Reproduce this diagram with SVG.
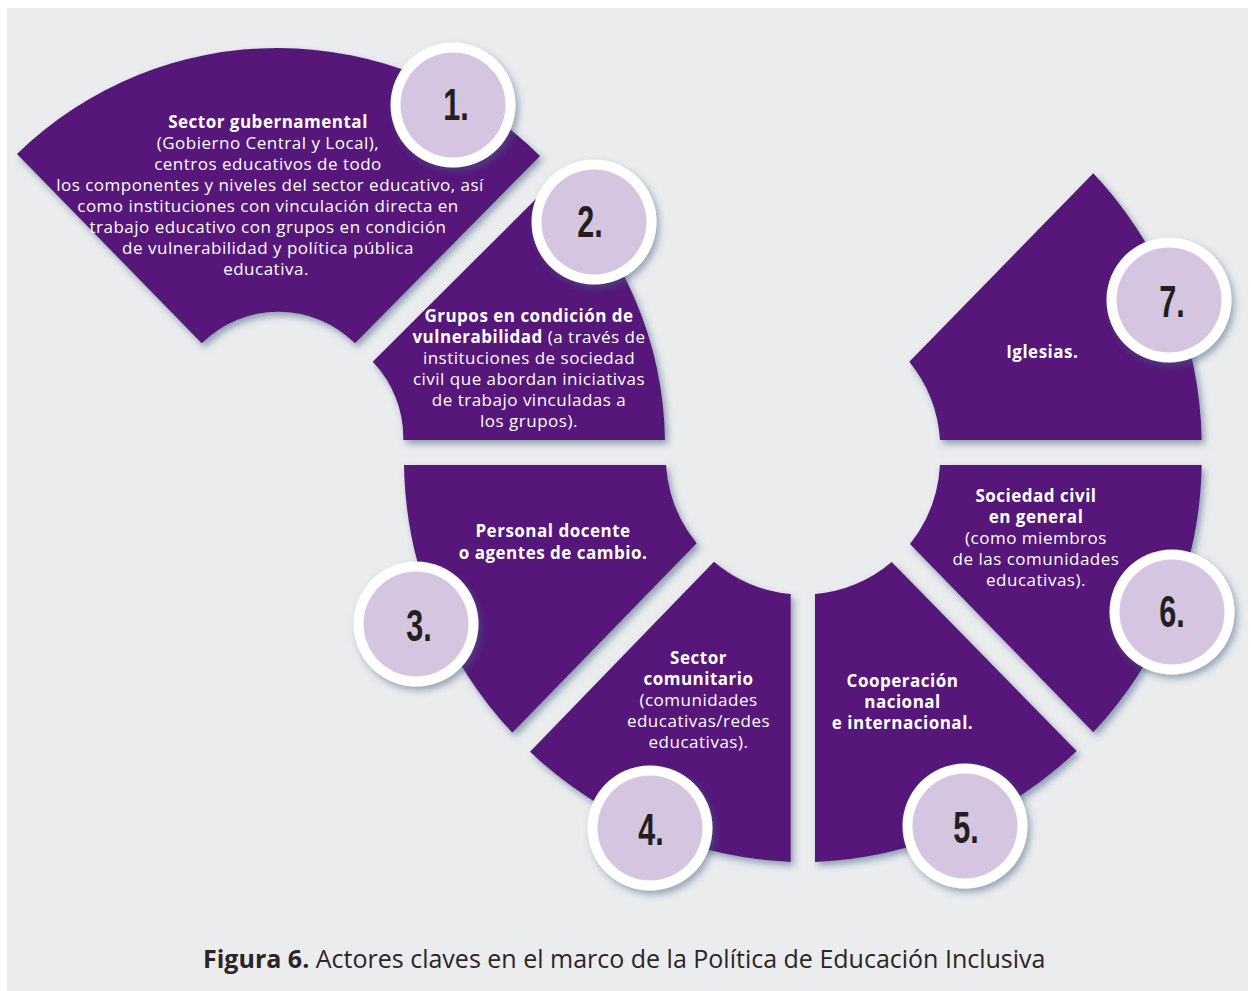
<svg xmlns="http://www.w3.org/2000/svg" width="1251" height="991" viewBox="0 0 1251 991">
<defs>
<filter id="sh" x="-20%" y="-20%" width="140%" height="140%">
<feDropShadow dx="3" dy="4" stdDeviation="3.5" flood-color="#3f5f80" flood-opacity="0.55"/>
</filter>
<filter id="csh" x="-30%" y="-30%" width="160%" height="160%">
<feDropShadow dx="3" dy="4" stdDeviation="3.5" flood-color="#3f5f80" flood-opacity="0.5"/>
</filter>
<style>
.sec{fill:#56177a;filter:url(#sh)}
.ring{fill:#ffffff;filter:url(#csh)}
.disc{fill:#d5c5e0}
.num{font-family:"Liberation Sans",Arial,sans-serif;font-weight:bold;font-size:45px;fill:#231f20;text-anchor:middle}
.t{font-family:"Open Sans","Liberation Sans",sans-serif;font-size:17px;letter-spacing:0.5px;fill:#ffffff;text-anchor:middle}
.b{font-weight:bold}
.cap{font-family:"Open Sans","Liberation Sans",sans-serif;font-size:25px;fill:#2b2526}
</style>
</defs>
<rect x="0" y="0" width="1251" height="991" fill="#ffffff"/>
<rect x="7" y="8" width="1241" height="983" fill="#ebecee"/>
<g id="connectors"/>
<g id="node1">
<path class="sec" d="M17,154 A373,373 0 0 1 540,156 L355,343.3 A109,109 0 0 0 201.7,343.3 Z"/>
<text class="t"><tspan class="b" x="268" y="127.5">Sector gubernamental</tspan><tspan x="268" y="148.5">(Gobierno Central y Local),</tspan><tspan x="268" y="169.5">centros educativos de todo</tspan><tspan x="270" y="190.5">los componentes y niveles del sector educativo, así</tspan><tspan x="268" y="211.5">como instituciones con vinculación directa en</tspan><tspan x="268" y="232.5">trabajo educativo con grupos en condición</tspan><tspan x="268" y="253.5">de vulnerabilidad y política pública</tspan><tspan x="266" y="274.5">educativa.</tspan></text>
<circle class="ring" cx="453" cy="105" r="62.5"/>
<circle class="disc" cx="453" cy="105" r="52.5"/>
<text class="num" transform="translate(456,120) scale(0.68,1)">1.</text>
</g>
<g id="node2">
<path class="sec" d="M372.7,361.7 L554,181 A370,370 0 0 1 665,440 L403.3,440 A110,110 0 0 0 372.7,361.7 Z"/>
<text class="t"><tspan class="b" x="529" y="321.7">Grupos en condición de</tspan><tspan x="529" y="342.7"><tspan class="b">vulnerabilidad</tspan> (a través de</tspan><tspan x="529" y="363.8">instituciones de sociedad</tspan><tspan x="529" y="384.9">civil que abordan iniciativas</tspan><tspan x="529" y="406">de trabajo vinculadas a</tspan><tspan x="529" y="427.1">los grupos).</tspan></text>
<circle class="ring" cx="594" cy="222" r="62.5"/>
<circle class="disc" cx="594" cy="222" r="52.5"/>
<text class="num" transform="translate(590,237) scale(0.68,1)">2.</text>
</g>
<g id="node3">
<path class="sec" d="M404,465 L666,465 A139,139 0 0 0 696.7,543.3 L512.3,732.7 A400,400 0 0 1 404,465 Z"/>
<text class="t b"><tspan x="553" y="537.3">Personal docente</tspan><tspan x="553" y="559.3">o agentes de cambio.</tspan></text>
<circle class="ring" cx="416" cy="624" r="62.5"/>
<circle class="disc" cx="416" cy="624" r="52.5"/>
<text class="num" transform="translate(419,641) scale(0.68,1)">3.</text>
</g>
<g id="node4">
<path class="sec" d="M714,561.7 A139,139 0 0 0 790.7,594 L790.7,862 A405,405 0 0 1 530,751.7 Z"/>
<text class="t"><tspan class="b" x="698.5" y="664">Sector</tspan><tspan class="b" x="698.5" y="685">comunitario</tspan><tspan x="698.5" y="706">(comunidades</tspan><tspan x="698.5" y="727">educativas/redes</tspan><tspan x="698.5" y="748">educativas).</tspan></text>
<circle class="ring" cx="650" cy="828" r="62.5"/>
<circle class="disc" cx="650" cy="828" r="52.5"/>
<text class="num" transform="translate(651,845) scale(0.68,1)">4.</text>
</g>
<g id="node5">
<path class="sec" d="M815,594 A139,139 0 0 0 891.7,562 L1076.7,751 A405,405 0 0 1 815,862 Z"/>
<text class="t b"><tspan x="902.5" y="686.7">Cooperación</tspan><tspan x="902.5" y="707.7">nacional</tspan><tspan x="902.5" y="729.3">e internacional.</tspan></text>
<circle class="ring" cx="965" cy="826" r="62.5"/>
<circle class="disc" cx="965" cy="826" r="52.5"/>
<text class="num" transform="translate(966,843) scale(0.68,1)">5.</text>
</g>
<g id="node6">
<path class="sec" d="M940,465 L1201.7,465 A400,400 0 0 1 1093.3,732.3 L910,544 A139,139 0 0 0 940,465 Z"/>
<text class="t"><tspan class="b" x="1036" y="501.7">Sociedad civil</tspan><tspan class="b" x="1036" y="522.7">en general</tspan><tspan x="1036" y="543.5">(como miembros</tspan><tspan x="1036" y="564.5">de las comunidades</tspan><tspan x="1036" y="585.5">educativas).</tspan></text>
<circle class="ring" cx="1172" cy="612" r="62.5"/>
<circle class="disc" cx="1172" cy="612" r="52.5"/>
<text class="num" transform="translate(1172,627) scale(0.68,1)">6.</text>
</g>
<g id="node7">
<path class="sec" d="M940,440 L1201.7,440 A400,400 0 0 0 1093.3,173.3 L909.3,361.7 A139,139 0 0 1 940,440 Z"/>
<text class="t b" x="1042.3" y="358.3">Iglesias.</text>
<circle class="ring" cx="1169" cy="300" r="62.5"/>
<circle class="disc" cx="1169" cy="300" r="52.5"/>
<text class="num" transform="translate(1172,317) scale(0.68,1)">7.</text>
</g>
<g id="caption">
<text class="cap" x="203" y="968"><tspan font-weight="bold">Figura 6.</tspan> Actores claves en el marco de la Política de Educación Inclusiva</text>
</g>
</svg>
